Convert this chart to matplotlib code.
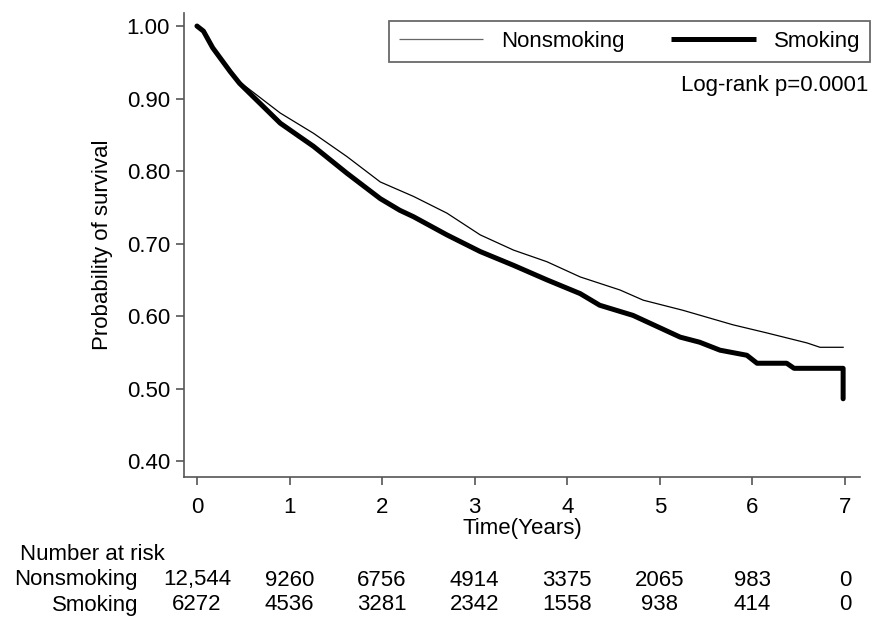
import matplotlib
matplotlib.use("Agg")
import matplotlib.pyplot as plt
import matplotlib.transforms as mtransforms

plt.rcParams['font.family'] = ['Liberation Sans', 'DejaVu Sans']

# survival curves
t_non = [0, 0.07, 0.17, 0.36, 0.41, 0.90, 1.26, 1.62, 1.98, 2.34, 2.70, 3.06, 3.42,
         3.78, 4.14, 4.57, 4.82, 5.25, 5.79, 6.15, 6.59, 6.73, 6.98]
s_non = [1.0, 0.994, 0.971, 0.940, 0.928, 0.880, 0.852, 0.820, 0.785, 0.765, 0.742, 0.712,
         0.691, 0.675, 0.654, 0.636, 0.622, 0.608, 0.588, 0.577, 0.563, 0.557, 0.557]

t_smk = [0, 0.07, 0.17, 0.36, 0.46, 0.90, 1.26, 1.62, 1.98, 2.19, 2.34, 2.70, 3.06, 3.42,
         3.78, 4.14, 4.35, 4.71, 5.22, 5.43, 5.65, 5.94, 6.05, 6.37, 6.45, 6.98, 6.98]
s_smk = [1.0, 0.993, 0.970, 0.937, 0.921, 0.866, 0.834, 0.797, 0.762, 0.746, 0.737, 0.712,
         0.689, 0.670, 0.650, 0.631, 0.615, 0.601, 0.571, 0.564, 0.553, 0.546, 0.535, 0.535,
         0.528, 0.528, 0.486]

years = [0, 1, 2, 3, 4, 5, 6, 7]
risk_non = ['12,544', '9260', '6756', '4914', '3375', '2065', '983', '0']
risk_smk = ['6272', '4536', '3281', '2342', '1558', '938', '414', '0']
yticks = [0.40, 0.50, 0.60, 0.70, 0.80, 0.90, 1.00]

fig = plt.figure(figsize=(8.72, 6.18), dpi=100)
ax = fig.add_axes([0.211, 0.228, 0.775, 0.751])

ax.plot(t_non, s_non, color='black', lw=0.9, label='Nonsmoking')
ax.plot(t_smk, s_smk, color='black', lw=3.6, solid_capstyle='round',
        solid_joinstyle='round', label='Smoking')

ax.set_xlim(-0.14, 7.16)
ax.set_ylim(0.378, 1.018)
ax.set_xticks(years)
ax.set_yticks(yticks)
ax.set_yticklabels(['%.2f' % v for v in yticks])

for side in ['top', 'right']:
    ax.spines[side].set_visible(False)
for side in ['left', 'bottom']:
    ax.spines[side].set_color('#555555')
    ax.spines[side].set_linewidth(1.2)
ax.tick_params(axis='both', direction='out', length=6, width=1.2, color='#555555',
               labelsize=16)
ax.tick_params(axis='x', pad=8)
ax.tick_params(axis='y', pad=4)

ax.set_ylabel('Probability of survival', fontsize=16, labelpad=10)
ax.set_xlabel('Time(Years)', fontsize=16, labelpad=0)

leg = ax.legend(loc='upper right', bbox_to_anchor=(870 / 872, 1 - 21 / 618),
                bbox_transform=fig.transFigure, ncol=2, fontsize=16, frameon=True,
                fancybox=False, handlelength=3.8, handletextpad=0.8,
                columnspacing=2.1, borderpad=0.45, borderaxespad=0)
leg.get_frame().set_edgecolor('#444444')
leg.get_frame().set_linewidth(1.3)
for line in leg.get_lines():
    line.set_solid_capstyle('butt')
leg.get_lines()[0].set_color('#666666')

fig.text(868 / 872, 1 - 85 / 618, 'Log-rank p=0.0001', ha='right', va='center', fontsize=16)

# number at risk table
trans = mtransforms.blended_transform_factory(ax.transData, fig.transFigure)
fig.text(20 / 872, 1 - 555 / 618, 'Number at risk', ha='left', va='center', fontsize=16)
fig.text(138 / 872, 1 - 580 / 618, 'Nonsmoking', ha='right', va='center', fontsize=16)
fig.text(138 / 872, 1 - 605 / 618, 'Smoking', ha='right', va='center', fontsize=16)
for x, a, b in zip(years, risk_non, risk_smk):
    ax.text(x, 1 - 580 / 618, a, transform=trans, ha='center', va='center', fontsize=16)
    ax.text(x, 1 - 605 / 618, b, transform=trans, ha='center', va='center', fontsize=16)

fig.savefig('out.png', dpi=100, facecolor='white')
